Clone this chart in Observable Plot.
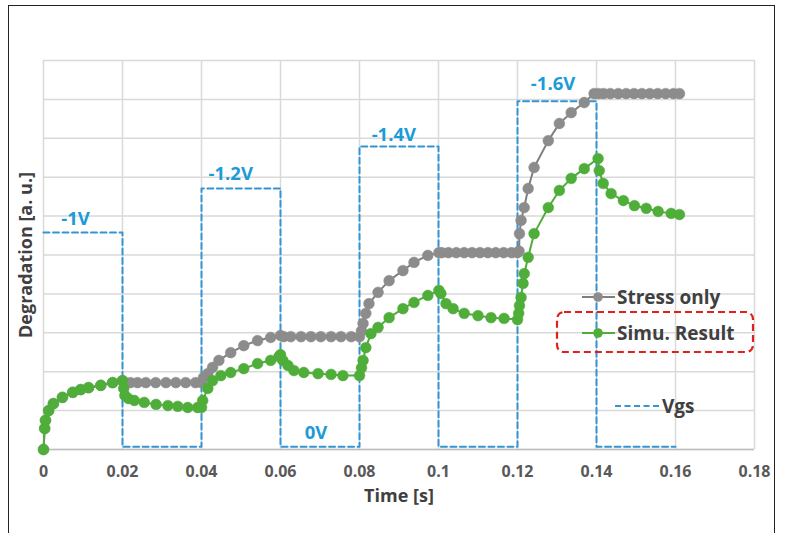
<!DOCTYPE html>
<html><head><meta charset="utf-8">
<script src="https://cdn.jsdelivr.net/npm/d3@7"></script>
<script src="https://cdn.jsdelivr.net/npm/@observablehq/plot@0.6"></script>
<style>
body{margin:0;background:#fff;overflow:hidden;font-family:"Open Sans",sans-serif}
#wrap{position:relative;width:786px;height:533px;overflow:hidden}
#frame{position:absolute;left:8px;top:5px;width:765px;height:600px;border:1.5px solid #222;pointer-events:none}
</style></head>
<body><div id="wrap"><div id="chart"></div><div id="frame"></div></div>
<script>
// Time ticks
const xTicks = [0,0.02,0.04,0.06,0.08,0.10,0.12,0.14,0.16,0.18];
const xTickLabels = ["0","0.02","0.04","0.06","0.08","0.1","0.12","0.14","0.16","0.18"];
const yGrid = [0,1,2,3,4,5,6,7,8,9,10];

// Stress only (gray)
const stressT = [0,0.0003,0.0005,0.0013,0.0025,0.0048,0.0074,0.0094,0.0114,0.0145,0.0175,0.0200,
  0.0203,0.022,0.0238,0.0259,0.0284,0.031,0.0335,0.036,0.0385,0.040,
  0.0405,0.0416,0.0428,0.0444,0.0474,0.0507,0.0542,0.0575,0.0600,
  0.0608,0.0626,0.0652,0.0677,0.0702,0.0728,0.0753,0.0779,0.0800,
  0.0805,0.0809,0.0816,0.0824,0.0847,0.0875,0.091,0.0938,0.0973,0.1001,
  0.1008,0.1025,0.1045,0.1065,0.1085,0.1105,0.1125,0.1145,0.1165,0.1185,0.1200,
  0.1204,0.1205,0.1209,0.1217,0.1227,0.1242,0.1278,0.1306,0.1336,0.1369,0.1394,
  0.1405,0.1418,0.1435,0.1455,0.1475,0.1495,0.1515,0.1535,0.1555,0.1575,0.1595,0.1610];
const stressV = [0,0.54,0.75,1.00,1.18,1.34,1.47,1.54,1.59,1.65,1.72,1.77,
  1.74,1.72,1.72,1.72,1.72,1.72,1.72,1.72,1.72,1.72,
  1.85,1.95,2.11,2.29,2.49,2.67,2.80,2.88,2.93,
  2.90,2.90,2.90,2.90,2.90,2.90,2.90,2.90,2.90,
  3.05,3.24,3.50,3.75,4.04,4.34,4.60,4.81,4.99,5.06,
  5.06,5.06,5.06,5.06,5.06,5.06,5.06,5.06,5.06,5.06,5.06,
  5.10,5.55,5.89,6.22,6.71,7.25,7.94,8.38,8.66,8.92,9.15,
  9.15,9.15,9.15,9.15,9.15,9.15,9.15,9.15,9.15,9.15,9.15,9.15];

// Simu. Result (green)
const simuT = [0,0.0003,0.0005,0.0013,0.0025,0.0048,0.0074,0.0094,0.0114,0.0145,0.0175,0.0200,
  0.0203,0.0206,0.0215,0.023,0.0255,0.0285,0.0315,0.034,0.0365,0.039,0.040,
  0.0403,0.0416,0.0428,0.0449,0.0474,0.0507,0.0542,0.0575,0.0596,0.0600,
  0.0606,0.0619,0.0634,0.0659,0.0695,0.0728,0.0758,0.0800,
  0.0805,0.0809,0.0816,0.0829,0.0847,0.0875,0.091,0.0938,0.0973,0.1001,
  0.1006,0.1019,0.1037,0.1065,0.11,0.1133,0.1166,0.1200,
  0.1203,0.1205,0.1209,0.1214,0.1217,0.1227,0.1242,0.1278,0.1306,0.1336,0.1369,0.1404,
  0.1407,0.1417,0.1437,0.1468,0.1496,0.1526,0.1556,0.1589,0.1610];
const simuV = [0,0.54,0.75,1.00,1.18,1.34,1.47,1.54,1.59,1.65,1.72,1.77,
  1.57,1.39,1.31,1.26,1.21,1.16,1.13,1.11,1.08,1.08,1.08,
  1.26,1.57,1.77,1.90,1.98,2.08,2.21,2.29,2.39,2.44,
  2.29,2.16,2.03,1.98,1.95,1.93,1.90,1.90,
  2.10,2.29,2.62,2.98,3.14,3.39,3.62,3.78,3.96,4.09,
  4.01,3.75,3.62,3.50,3.44,3.39,3.37,3.34,
  3.50,3.70,3.91,4.27,4.52,4.94,5.55,6.22,6.66,6.97,7.22,7.48,
  7.17,6.84,6.58,6.40,6.27,6.20,6.12,6.07,6.04];

// Vgs step waveform
const vgsT = [0,0.02,0.02,0.04,0.04,0.06,0.06,0.08,0.08,0.10,0.10,0.12,0.12,0.14,0.14,0.16];
const vgsV = [5.58,5.58,0.07,0.07,6.71,6.71,0.07,0.07,7.79,7.79,0.07,0.07,8.95,8.95,0.07,0.07];

// Vgs level labels
const vgsLabelText = ["-1V","-1.2V","0V","-1.4V","-1.6V"];
const vgsLabelT = [0.0081,0.0474,0.069,0.0887,0.129];
const vgsLabelV = [5.93,7.08,0.41,8.08,9.40];

const stress = stressT.map((t,i)=>({t, v: stressV[i]}));
const simu = simuT.map((t,i)=>({t, v: simuV[i]}));
const vgs = vgsT.map((t,i)=>({t, v: vgsV[i]}));
const labels = vgsLabelText.map((s,i)=>({s, t: vgsLabelT[i], v: vgsLabelV[i]}));

const GRAY = "#8c8c8c", GREEN = "#4fad3a", BLUE = "#3594d2", TXT = "#404040";
const FONT = "Open Sans";

const chart = Plot.plot({
  width: 786, height: 533,
  marginLeft: 43, marginRight: 32, marginTop: 60, marginBottom: 84,
  style: {fontFamily: FONT, background: "transparent"},
  x: {domain: [0, 0.18]},
  y: {domain: [0, 10]},
  marks: [
    Plot.gridX(xTicks, {stroke: "#d9d9d9", strokeOpacity: 1, strokeWidth: 1.5}),
    Plot.gridY(yGrid, {stroke: "#d9d9d9", strokeOpacity: 1, strokeWidth: 1.5}),
    Plot.ruleY([0], {stroke: "#bfbfbf", strokeWidth: 1.5}),
    Plot.axisX(xTicks, {tickSize: 0, tickPadding: 16, label: null,
      tickFormat: (d,i) => xTickLabels[i], fontSize: 16, fontWeight: "bold", fill: "#595959"}),
    Plot.axisY({ticks: [], label: null, tickSize: 0}),
    Plot.line(vgs, {x: "t", y: "v", stroke: BLUE, strokeWidth: 2, strokeDasharray: "6,3.5"}),
    Plot.text(labels, {x: "t", y: "v", text: "s", fill: "#1c9bd8", fontSize: 18.5, fontWeight: "bold"}),
    Plot.line(stress, {x: "t", y: "v", stroke: "#7f7f7f", strokeWidth: 2}),
    Plot.dot(stress, {x: "t", y: "v", r: 5.4, fill: GRAY, stroke: GRAY, strokeWidth: 0.5}),
    Plot.line(simu, {x: "t", y: "v", stroke: GREEN, strokeWidth: 2}),
    Plot.dot(simu, {x: "t", y: "v", r: 5.4, fill: GREEN, stroke: GREEN, strokeWidth: 0.5}),
    Plot.text(["Time [s]"], {frameAnchor: "bottom", dy: 52, fontSize: 18, fontWeight: "bold", fill: TXT, textAnchor: "middle"}),
    Plot.text(["Degradation [a. u.]"], {frameAnchor: "left", dx: -17, rotate: -90, fontSize: 18, fontWeight: "bold", fill: TXT, textAnchor: "middle"})
  ]
});
document.getElementById("chart").appendChild(chart);

// Legend (inside plot area)
const svg = d3.select(chart);
const lg = svg.append("g").attr("font-family", FONT).attr("font-weight", "bold").attr("font-size", 19).attr("fill", TXT).attr("text-anchor", "start");
function entry(y, color, lineColor, text) {
  lg.append("line").attr("x1", 582).attr("x2", 615).attr("y1", y).attr("y2", y).attr("stroke", lineColor).attr("stroke-width", 2);
  lg.append("circle").attr("cx", 598).attr("cy", y).attr("r", 4.8).attr("fill", color);
  lg.append("text").attr("x", 617).attr("y", y).attr("dy", "0.35em").text(text);
}
entry(297, GRAY, "#7f7f7f", "Stress only");
entry(333, GREEN, GREEN, "Simu. Result");
lg.append("rect").attr("x", 557).attr("y", 312).attr("width", 196).attr("height", 40).attr("rx", 7)
  .attr("fill", "none").attr("stroke", "#e0201b").attr("stroke-width", 2.2).attr("stroke-dasharray", "7,4");
lg.append("line").attr("x1", 615).attr("x2", 661).attr("y1", 406).attr("y2", 406).attr("stroke", BLUE).attr("stroke-width", 2).attr("stroke-dasharray", "6,3.5");
lg.append("text").attr("x", 662).attr("y", 406).attr("dy", "0.35em").text("Vgs");
</script></body></html>
